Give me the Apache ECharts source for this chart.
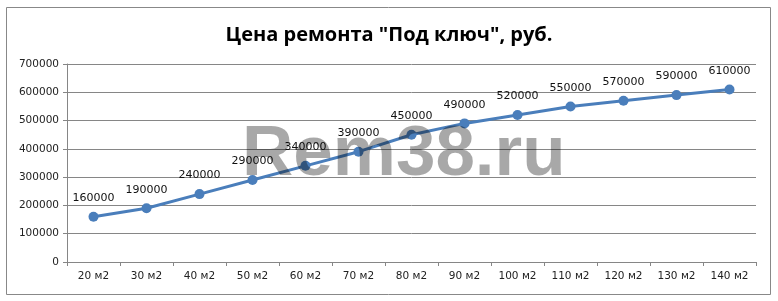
<!DOCTYPE html>
<html><head><meta charset="utf-8">
<script src="https://cdn.jsdelivr.net/npm/echarts@6/dist/echarts.min.js"></script>
<style>html,body{margin:0;padding:0;background:#fff}#c{width:778px;height:301px}</style>
</head><body><div id="c"></div>
<script>
const titleText = 'Цена ремонта "Под ключ", руб.';
const categories = ['20 м2','30 м2','40 м2','50 м2','60 м2','70 м2','80 м2','90 м2','100 м2','110 м2','120 м2','130 м2','140 м2'];
const prices = [160000,190000,240000,290000,340000,390000,450000,490000,520000,550000,570000,590000,610000];
const yMin = 0, yMax = 700000, yStep = 100000;

const chart = echarts.init(document.getElementById('c'), null, {renderer:'canvas'});
chart.setOption({
  animation:false,
  backgroundColor:'#fff',
  title:{text:titleText,left:'center',top:20,textStyle:{fontFamily:'Open Sans',fontWeight:'bold',fontSize:20,color:'#000'}},
  grid:{left:67,right:22,top:64,bottom:39},
  xAxis:{type:'category',data:categories,boundaryGap:true,
    axisLine:{lineStyle:{color:'#868686',width:1}},
    axisTick:{show:true,length:4,lineStyle:{color:'#868686'}},
    axisLabel:{color:'#222',fontFamily:'DejaVu Sans',fontSize:10.5,margin:9}},
  yAxis:{type:'value',min:yMin,max:yMax,interval:yStep,
    axisLine:{show:true,lineStyle:{color:'#868686'}},
    axisTick:{show:true,length:4,inside:false,lineStyle:{color:'#868686'}},
    splitLine:{lineStyle:{color:'#868686',width:1}},
    axisLabel:{color:'#222',fontFamily:'DejaVu Sans',fontSize:10.5,margin:8,formatter:v=>String(v)}},
  series:[{type:'line',data:prices,symbol:'circle',symbolSize:10,
    lineStyle:{color:'#4A7EBB',width:3},
    itemStyle:{color:'#4A7EBB'},
    label:{show:true,position:'top',distance:8,color:'#111',fontFamily:'DejaVu Sans',fontSize:11,formatter:p=>String(p.value)}}],
  graphic:[
    {type:'rect',z:0,shape:{x:6.5,y:7.5,width:764,height:287},style:{fill:'none',stroke:'#888',lineWidth:1}},
    {type:'text',z:100,left:242,top:120,style:{text:'Rem38.ru',fontFamily:'Liberation Sans',fontWeight:'bold',fontSize:71,fill:'rgba(0,0,0,0.34)'}}
  ]
});
</script></body></html>
